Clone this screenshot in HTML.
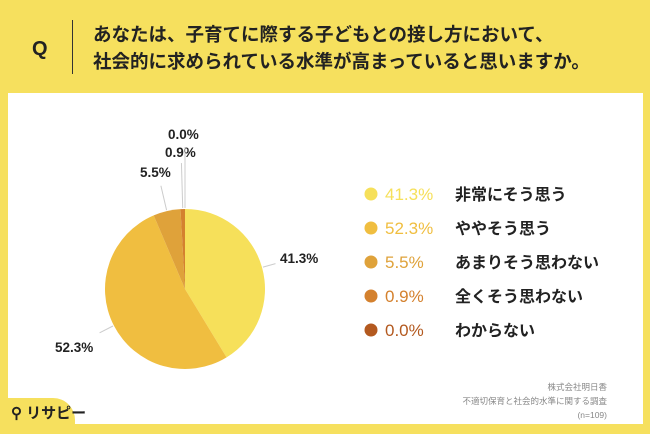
<!DOCTYPE html>
<html><head><meta charset="utf-8">
<style>
body{margin:0;width:650px;height:434px;background:#F6E05E;font-family:"Liberation Sans","Noto Sans CJK JP",sans-serif;position:relative;overflow:hidden}
.panel{position:absolute;left:8px;top:93px;width:635px;height:331px;background:#fff}
.q{position:absolute;left:32px;top:38px;font-size:20px;font-weight:bold;color:#222}
.sep{position:absolute;left:72px;top:20px;width:1px;height:54px;background:#333}
.title{position:absolute;left:93px;top:21px;font-size:18.5px;font-weight:bold;line-height:27px;color:#222;white-space:nowrap}
.tab{position:absolute;left:0;top:398px;width:75px;height:36px;background:#F6E05E;border-top-right-radius:22px}
.logo{position:absolute;left:11px;top:402px;font-size:15px;font-weight:bold;color:#222}
.note{position:absolute;right:43px;top:380px;font-size:8.5px;color:#888;text-align:right;line-height:14px}
</style></head><body>
<div class="panel"></div>
<div class="q">Q</div>
<div class="sep"></div>
<div class="title">あなたは、子育てに際する子どもとの接し方において、<br>社会的に求められている水準が高まっていると思いますか。</div>
<svg id="chart" width="650" height="434" style="position:absolute;left:0;top:0"></svg>
<div class="tab"></div>
<div class="logo">⚲ リサピー</div>
<div class="note">株式会社明日香<br>不適切保育と社会的水準に関する調査<br>(n=109)</div>
<script>
const categories=["非常にそう思う","ややそう思う","あまりそう思わない","全くそう思わない","わからない"];
const values=[41.3,52.3,5.5,0.9,0.0];
const labels=["41.3%","52.3%","5.5%","0.9%","0.0%"];
const colors=["#F6E05A","#F0BE40","#DFA23A","#D4812E","#B3591F"];
const NS="http://www.w3.org/2000/svg";
const svg=document.getElementById('chart');
const cx=185,cy=289,r=80;
const total=values.reduce((a,b)=>a+b,0);
function pt(a,rr){return [cx+rr*Math.sin(a),cy-rr*Math.cos(a)];}
function mk(t,attrs){const e=document.createElementNS(NS,t);for(const k in attrs)e.setAttribute(k,attrs[k]);svg.appendChild(e);return e;}
let a0=0;
const outLabelPos=[[280,263],[55,352],[140,177],[165,157],[168,139]];
const leadLen=[14,16,26,46,62];
values.forEach((v,i)=>{
  const a1=a0+v/total*2*Math.PI;
  if(v>0){
    const p0=pt(a0,r),p1=pt(a1,r);
    const large=(a1-a0)>Math.PI?1:0;
    const s=mk('path',{d:`M${cx},${cy}L${p0[0]},${p0[1]}A${r},${r} 0 ${large} 1 ${p1[0]},${p1[1]}Z`,fill:colors[i]});
    
    
  }
  const mid=(a0+a1)/2;
  const e=pt(mid,r+1),f=pt(mid,r+leadLen[i]);
  const ln=mk('line',{x1:e[0],y1:e[1],x2:f[0],y2:f[1],stroke:'#ccc','stroke-width':1});
  
  
  const lp=outLabelPos[i];
  const t=mk('text',{x:lp[0],y:lp[1],'font-size':13.5,'font-weight':'bold',fill:'#222'});
  t.textContent=labels[i];
  
  
  a0=a1;
});
categories.forEach((c,i)=>{
  const y=194+i*34;
  const d=mk('circle',{cx:371,cy:y,r:6.5,fill:colors[i]});
  
  
  const p=mk('text',{x:385,y:y+6,'font-size':17,fill:colors[i]});
  p.textContent=labels[i];
  
  
  const t=mk('text',{x:455,y:y+6,'font-size':16,'font-weight':'bold',fill:'#222'});
  t.textContent=c;
  
  
});
</script>
</body></html>
